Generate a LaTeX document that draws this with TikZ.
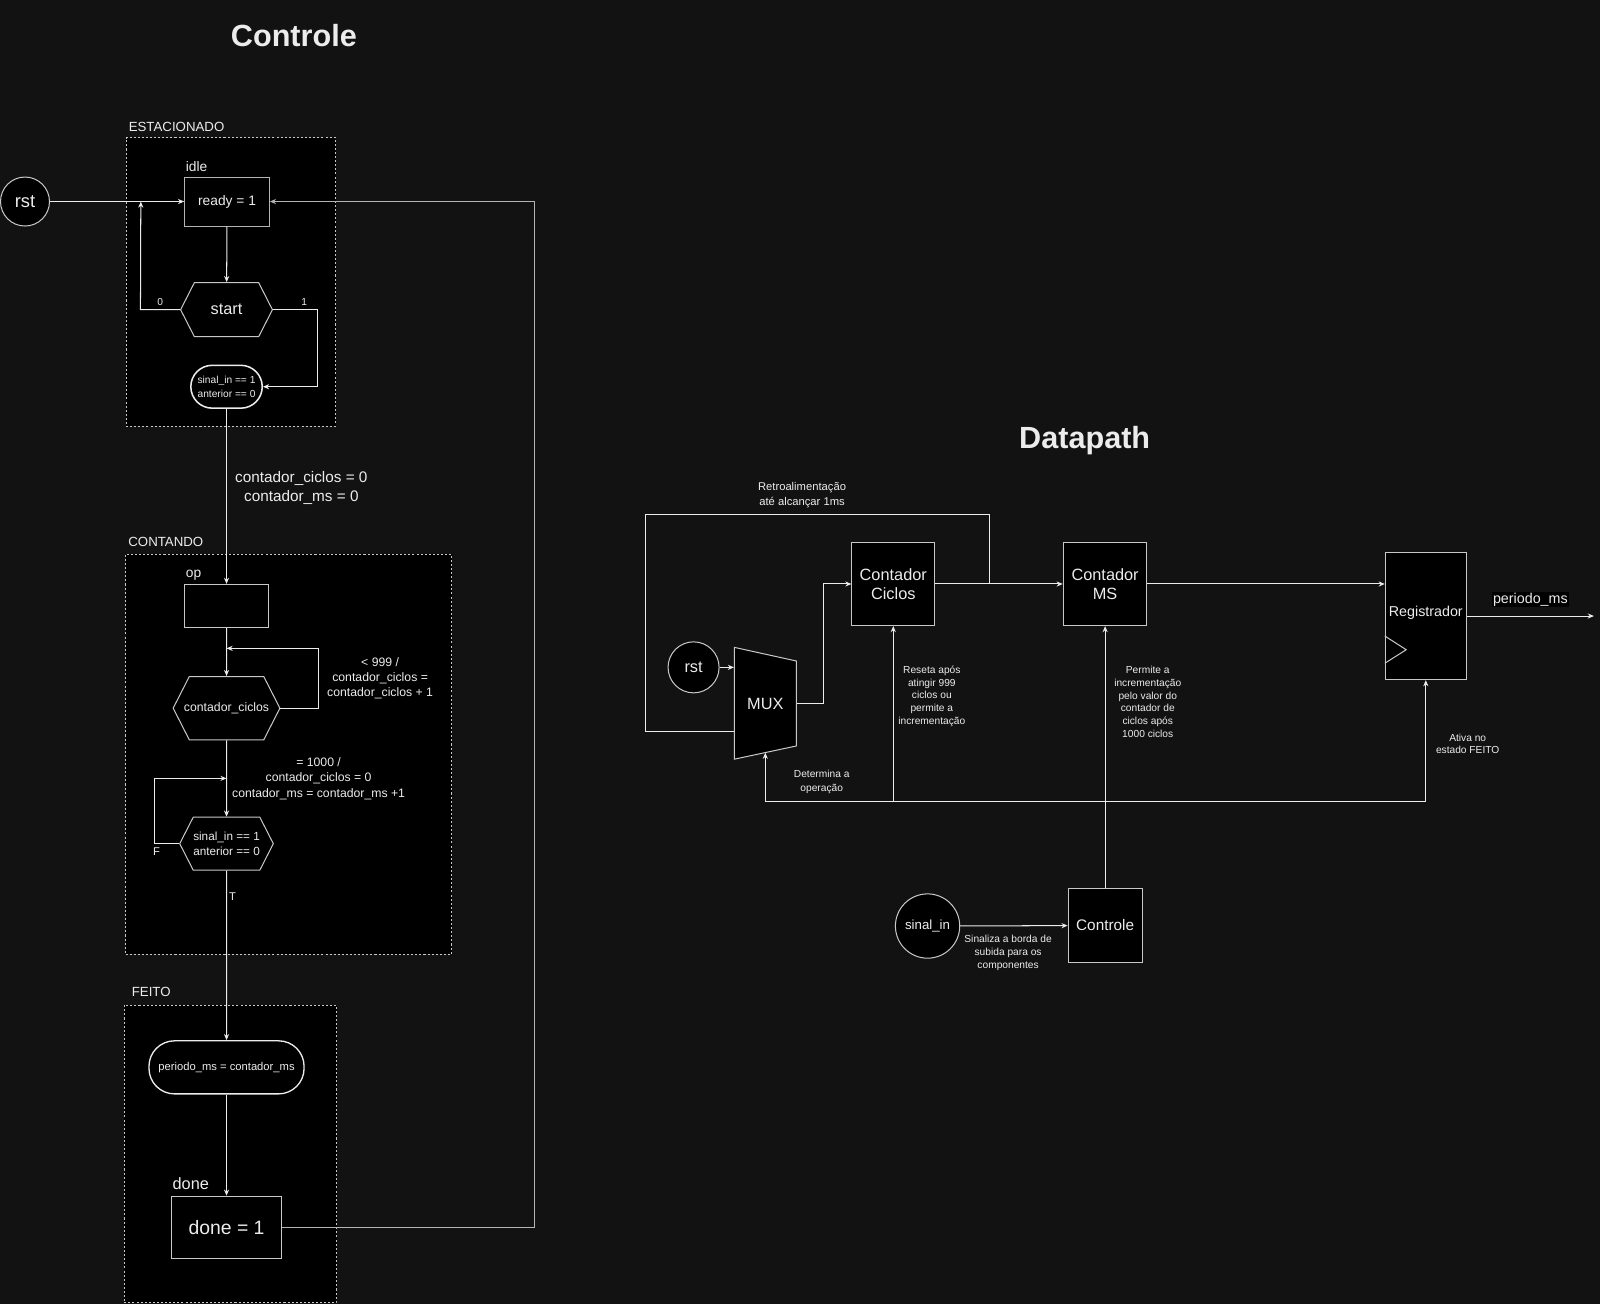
\documentclass[tikz,border=0pt]{standalone}
\usepackage{fontspec}
\setmainfont{Liberation Sans}
\usepackage{tikz}
\usetikzlibrary{arrows.meta,shapes,positioning}
\definecolor{bgdark}{RGB}{18,18,18}
\definecolor{linewhite}{RGB}{236,236,236}
\definecolor{bordergray}{RGB}{200,200,200}
\definecolor{wiregray}{RGB}{180,180,180}
\newcommand{\pxfont}[2]{\fontsize{#1bp}{#2bp}\selectfont}

\begin{document}
\begin{tikzpicture}[>={Stealth[length=6bp,width=5bp]},
  wire/.style={draw=linewhite,line width=1bp},
  back/.style={draw=wiregray,line width=1bp},
  box/.style={draw=bordergray,fill=black,line width=1bp,text=linewhite,inner sep=0pt,align=center},
  hexa/.style={box,signal,signal to=east and west,signal pointer angle=126},
  state/.style={draw=bordergray,fill=black,line width=0.8bp,dash pattern=on 2bp off 2bp},
  lbl/.style={text=linewhite,inner sep=0pt,align=center}]

\useasboundingbox (0bp,0bp) rectangle (1568bp,-1278bp);
\fill [bgdark] (0bp,0bp) rectangle (1568bp,-1278bp);

% Controle
\node (tituloA) at (288bp,-35bp)[lbl,font=\pxfont{30}{36}\bfseries] {Controle};
\node (est) at (226.25bp,-276.25bp)[state,minimum width=205.5bp,minimum height=282.5bp] {};
\node (cont) at (282.8bp,-739bp)[state,minimum width=319.6bp,minimum height=392bp] {};
\node (feito) at (225.9bp,-1130.75bp)[state,minimum width=208.2bp,minimum height=291.5bp] {};
\node (estT) at (126bp,-124bp)[lbl,anchor=west,font=\pxfont{13}{16}] {ESTACIONADO};
\node (contT) at (125.6bp,-531bp)[lbl,anchor=west,font=\pxfont{13}{16}] {CONTANDO};
\node (feitoT) at (129bp,-972bp)[lbl,anchor=west,font=\pxfont{13}{16}] {FEITO};

\node (rstA) at (24.5bp,-197.5bp)[box,circle,minimum size=48bp,font=\pxfont{18}{22}] {rst};
\node (idleT) at (182bp,-163.6bp)[lbl,anchor=west,font=\pxfont{13.5}{16}] {idle};
\node (ready) at (222.5bp,-197.5bp)[box,draw=wiregray,minimum width=83bp,minimum height=48bp,font=\pxfont{13.5}{16}] {ready = 1};
\node (start) at (222bp,-303.5bp)[hexa,minimum width=90bp,minimum height=53bp,font=\pxfont{16}{19}] {start};
\node (novo) at (222bp,-379bp)[box,draw=linewhite,rounded corners=21bp,line width=1.5bp,minimum width=70bp,minimum height=42bp,font=\pxfont{10}{13}] {sinal\_in == 1\\anterior == 0};
\node (opT) at (182bp,-563.5bp)[lbl,anchor=west,font=\pxfont{13.5}{16}] {op};
\node (op) at (222bp,-593.7bp)[box,minimum width=83bp,minimum height=42bp] {};
\node (ciclos) at (222bp,-694bp)[hexa,minimum width=104.5bp,minimum height=62bp,font=\pxfont{12}{14}] {\makebox[73bp]{contador\_ciclos}};
\node (borda) at (222bp,-826.8bp)[hexa,minimum width=91bp,minimum height=52bp,font=\pxfont{11.5}{14}] {sinal\_in == 1\\anterior == 0};
\node (periodo) at (222bp,-1046bp)[box,draw=linewhite,rounded corners=25bp,line width=1.3bp,minimum width=152bp,minimum height=52bp,font=\pxfont{11}{13}] {periodo\_ms = contador\_ms};
\node (doneT) at (169bp,-1159.6bp)[lbl,anchor=west,font=\pxfont{16}{19}] {done};
\node (done) at (222bp,-1203bp)[box,minimum width=108bp,minimum height=61.5bp,font=\pxfont{19}{22}] {done = 1};
\coordinate (rstjoin) at (138bp,-197.5bp);
\coordinate (voltaA) at (222bp,-635.4bp);
\coordinate (voltaB) at (222bp,-762.8bp);

\draw [wire,->] (rstA) -- (ready);
\draw [wire,->] (ready) -- (start);
\draw [wire,->] (start.west) -- node[lbl,above=4bp,font=\pxfont{10}{12}] {0} ++(-38.8bp,0bp) -- (rstjoin);
\draw [wire,->] (start.east) -- node[lbl,pos=0.7,above=4bp,font=\pxfont{10}{12}] {1} ++(43.5bp,0bp) |- (novo.east);
\draw [wire,->] (novo) -- node[lbl,pos=0.45,right=8bp,font=\pxfont{15}{18.5}] {contador\_ciclos = 0\\contador\_ms = 0} (op);
\draw [wire,->] (op) -- (ciclos);
\draw [wire,->] (ciclos.east) -- ++(37.3bp,0bp) |- node[lbl,pos=0.25,right=8bp,font=\pxfont{12}{14.5}] {< 999 /\\contador\_ciclos =\\contador\_ciclos + 1} (voltaA);
\draw [wire,->] (ciclos) -- node[lbl,right=5bp,font=\pxfont{12}{15}] {= 1000 /\\contador\_ciclos = 0\\contador\_ms = contador\_ms +1} (borda);
\draw [wire,->] (borda.west) -- node[lbl,pos=0.9,below=3.5bp,font=\pxfont{11}{13}] {F} ++(-24.5bp,0bp) |- (voltaB);
\draw [wire,->] (borda) -- node[lbl,pos=0.155,right=2bp,font=\pxfont{11}{13}] {T} (periodo);
\draw [wire,->] (periodo) -- (done);
\draw [back,->] (done.east) -- ++(247.6bp,0bp) |- (ready.east);

% Datapath
\node (tituloB) at (1063bp,-432bp)[lbl,font=\pxfont{30}{36}\bfseries] {Datapath};
\draw [draw=bordergray,fill=black,line width=1bp] (719.6bp,-634.4bp) -- (780.5bp,-647.8bp) -- (780.5bp,-731bp) -- (719.6bp,-744bp) -- cycle;
\node (mux) at (750bp,-689.5bp)[lbl,minimum width=61bp,minimum height=110bp,font=\pxfont{16}{19}] {MUX};
\node (rstB) at (679.7bp,-654bp)[box,circle,minimum size=50bp,font=\pxfont{16}{19}] {rst};
\node (cc) at (875.4bp,-572.3bp)[box,minimum width=81bp,minimum height=81.5bp,font=\pxfont{16}{19}] {Contador\\Ciclos};
\node (cms) at (1083bp,-572.3bp)[box,minimum width=82bp,minimum height=81.5bp,font=\pxfont{16}{19}] {Contador\\MS};
\node (reg) at (1397.3bp,-603.7bp)[box,minimum width=79.4bp,minimum height=124.7bp,font=\pxfont{14}{17}] {\raisebox{9.5bp}{Registrador}};
\draw [draw=bordergray,line width=1bp] ([yshift=-19.6bp]reg.west) -- ([xshift=21bp,yshift=-33bp]reg.west) -- ([yshift=-46.3bp]reg.west);
\node (sinal) at (909bp,-907.5bp)[box,circle,minimum size=63bp,font=\pxfont{13}{16}] {sinal\_in};
\node (ctrl) at (1083bp,-907bp)[box,minimum width=72.5bp,minimum height=72bp,font=\pxfont{15}{18}] {Controle};
\coordinate (fb) at (970bp,-572.3bp);
\coordinate (saida) at (1562bp,-603.7bp);

\draw [wire,->] (rstB) -- (rstB -| mux.west);
\draw [wire,->] (mux.east) -- ++(26.2bp,0bp) |- (cc.west);
\draw [wire,->] (cc) -- (cms);
\draw [wire] (fb) -- ++(0bp,68.3bp) -- node[lbl,pos=0.546,above=6bp,font=\pxfont{11}{14}] {Retroalimentação\\até alcançar 1ms} ++(-337bp,0bp) |- ([yshift=-27bp]mux.west);
\draw [wire,->] (cms.east) -- (cms.east -| reg.west);
\draw [wire,->] (reg.east) -- node[lbl,fill=black,inner sep=1bp,above=8bp,font=\pxfont{14}{17}] {periodo\_ms} (saida);
\draw [wire,->] (sinal) -- node[lbl,pos=0.446,below=9bp,font=\pxfont{10}{12.5}] {Sinaliza a borda de\\subida para os\\componentes} (ctrl);
\draw [wire,->] (ctrl) -- node[lbl,pos=0.711,right=8.5bp,font=\pxfont{10}{12.4}] {Permite a\\incrementação\\pelo valor do\\contador de\\ciclos após\\1000 ciclos} (cms);
\draw [wire,->] (ctrl.north) -- ++(0bp,85bp) -| node[lbl,pos=0.417,above=7bp,font=\pxfont{10}{14}] {Determina a\\operação} ([yshift=7bp]mux.south);
\draw [wire,->] (ctrl.north) -- ++(0bp,85bp) -| node[lbl,pos=0.8,right=4.5bp,font=\pxfont{10}{12.4}] {Reseta após\\atingir 999\\ciclos ou\\permite a\\incrementação} (cc.south);
\draw [wire,->] (ctrl.north) -- ++(0bp,85bp) -| node[lbl,pos=0.7375,right=9.5bp,font=\pxfont{10}{12.4}] {Ativa no\\estado FEITO} (reg.south);
\end{tikzpicture}
\end{document}
